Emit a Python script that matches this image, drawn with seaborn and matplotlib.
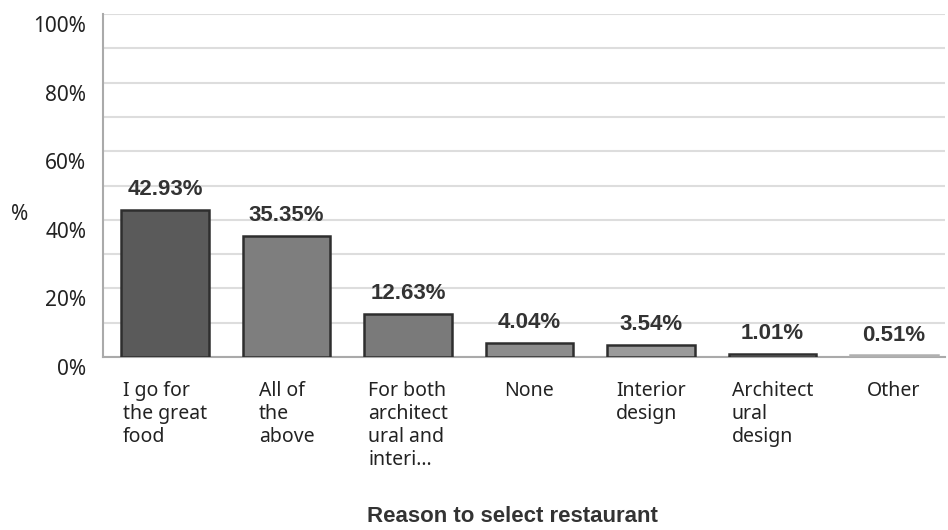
import matplotlib
matplotlib.use("Agg")
import matplotlib.pyplot as plt
import matplotlib.transforms as mtransforms
import seaborn as sns
import pandas as pd

categories = ["I go for\nthe great\nfood", "All of\nthe\nabove",
              "For both\narchitect\nural and\ninteri...", "None",
              "Interior\ndesign", "Architect\nural\ndesign", "Other"]
values = [42.93, 35.35, 12.63, 4.04, 3.54, 1.01, 0.51]
value_labels = ["42.93%", "35.35%", "12.63%", "4.04%", "3.54%", "1.01%", "0.51%"]
ytick_vals = [0, 20, 40, 60, 80, 100]
ytick_labels = ["0%", "20%", "40%", "60%", "80%", "100%"]
bar_colors = ["#5a5a5a", "#7e7e7e", "#7a7a7a", "#8c8c8c", "#9a9a9a", "#9a9a9a", "#9a9a9a"]

sns.set_theme(style="white")
plt.rcParams['font.family'] = ['Noto Sans', 'DejaVu Sans']

df = pd.DataFrame({"cat": categories, "val": values})

fig = plt.figure(figsize=(9.48, 5.30), dpi=100)
ax = fig.add_axes([103/948, 1-357/530, (945-103)/948, (357-14)/530])

sns.barplot(data=df, x="cat", y="val", hue="cat", palette=bar_colors,
            legend=False, width=0.72, ax=ax, saturation=1, zorder=3)
for i, p in enumerate(ax.patches):
    p.set_edgecolor("#2e2e2e" if i < 6 else "#b0b0b0")
    p.set_linewidth(1.8)

ax.set_ylim(0, 100)
ax.set_xlim(-0.51, 6.42)

ax.set_yticks(ytick_vals)
ax.set_yticklabels(ytick_labels, fontsize=15, color="#222222")
ax.set_yticks([10, 30, 50, 70, 90], minor=True)
ax.grid(axis="y", which="both", color="#dddddd", linewidth=1.5, zorder=0)
ax.tick_params(axis="both", which="both", length=0)
ax.tick_params(axis="y", pad=12)
offset = mtransforms.ScaledTranslation(0, -10/100, fig.dpi_scale_trans)
for lbl in ax.get_yticklabels():
    lbl.set_transform(lbl.get_transform() + offset)

ax.set_xticks(range(len(categories)))
ax.set_xticklabels(categories, fontsize=14, color="#222222",
                   ha="center", va="top", multialignment="left", linespacing=1.2)
ax.tick_params(axis="x", pad=17)

for s in ["top", "right"]:
    ax.spines[s].set_visible(False)
for s in ["left", "bottom"]:
    ax.spines[s].set_color("#aaaaaa")
    ax.spines[s].set_linewidth(1.5)

for i, (v, t) in enumerate(zip(values, value_labels)):
    ax.annotate(t, (i, v), xytext=(0, 7), textcoords="offset points",
                ha="center", va="bottom", fontsize=16, fontweight="bold",
                color="#333333", family=["Liberation Sans", "DejaVu Sans"])

ax.set_ylabel("")
ax.set_xlabel("")
fig.text(20/948, 1-215/530, "%", fontsize=15, color="#222222", ha="center", va="center")
fig.text(512/948, 1-516/530, "Reason to select restaurant", fontsize=16,
         fontweight="bold", color="#333333", ha="center", va="center",
         family=["Liberation Sans", "DejaVu Sans"])

fig.savefig("out.png", dpi=100)
